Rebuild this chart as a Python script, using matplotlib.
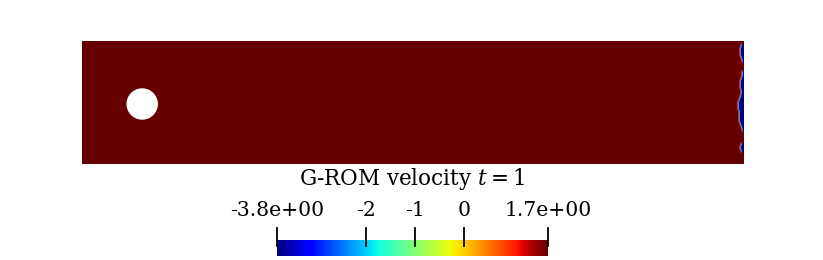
import numpy as np
import matplotlib
matplotlib.use("Agg")
import matplotlib.pyplot as plt
from matplotlib.colors import LinearSegmentedColormap

plt.rcParams['mathtext.fontset'] = 'dejavuserif'

# Domain (channel with cylinder)
length, height = 2.2, 0.41
cyl_x, cyl_y, cyl_r = 0.2, 0.2, 0.05
vmin, vmax = -3.8, 1.7
title = "G-ROM velocity $t=1$"
tick_values = [-3.8, -2, -1, 0, 1.7]
tick_labels = ["-3.8e+00", "-2", "-1", "0", "1.7e+00"]

# Outlet penetration depth (in pixel columns) of low-velocity region, rows top->bottom
outlet_depth = [0, 2, 3, 3, 3, 2, 1, 0, 0, 0, 1, 1, 2, 3, 3, 3, 2, 2, 3, 4,
                5, 5, 5, 4, 4, 4, 4, 3, 2, 1, 0, 0, 0, 0, 2, 3, 2, 0, 0, 0, 0]
# values across the transition band just inside the low-velocity region
transition_values = [1.0, -2.2]

nx = 662
ny = len(outlet_depth)
field = np.full((ny, nx), vmax)
for r, d in enumerate(outlet_depth):
    if d > 0:
        field[r, nx - d:] = vmin
        for k, tv in enumerate(transition_values):
            c = nx - d - len(transition_values) + k
            field[r, c] = tv

jet = plt.get_cmap('jet')
cols = [jet(v) for v in np.linspace(0, 1, 256)]
n_tail = 30
for i in range(n_tail):
    f = i / (n_tail - 1)
    base = cols[256 - n_tail + i]
    cols[256 - n_tail + i] = (base[0] * (1 - 0.2 * f), base[1], base[2], 1)
cmap = LinearSegmentedColormap.from_list('jetdark', cols)

W, H = 823, 260
fig = plt.figure(figsize=(W / 100, H / 100), dpi=100)

ax = fig.add_axes([82 / W, (H - 164) / H, 662 / W, 123 / H])
ax.imshow(field, cmap=cmap, vmin=vmin, vmax=vmax, extent=[0, length, 0, height],
          origin='upper', interpolation='bilinear', aspect='auto')
ax.add_patch(plt.Circle((cyl_x, cyl_y), cyl_r, color='white', zorder=3))
ax.set_xlim(0, length)
ax.set_ylim(0, height)
ax.axis('off')

# Colorbar
cb_left, cb_right, cb_top, cb_bot = 277, 548, 240, 256
cax = fig.add_axes([cb_left / W, (H - cb_bot) / H, (cb_right - cb_left) / W, (cb_bot - cb_top) / H])
grad = np.linspace(vmin, vmax, 512)[None, :]
cax.imshow(grad, cmap=cmap, vmin=vmin, vmax=vmax, extent=[vmin, vmax, 0, 1], aspect='auto')
cax.set_xlim(vmin, vmax)
cax.axis('off')

for v, lab in zip(tick_values, tick_labels):
    px = cb_left + (v - vmin) / (vmax - vmin) * (cb_right - cb_left)
    fig.add_artist(plt.Line2D([px / W, px / W], [(H - 228) / H, (H - 246) / H],
                              color='black', lw=1.3, transform=fig.transFigure))
    fig.text(px / W, (H - 210) / H, lab, ha='center', va='center',
             family='DejaVu Serif', fontsize=14.7)

fig.text(412 / W, (H - 179) / H, title, ha='center', va='center',
         family='DejaVu Serif', fontsize=15.5)

fig.savefig('out.png', dpi=100)
